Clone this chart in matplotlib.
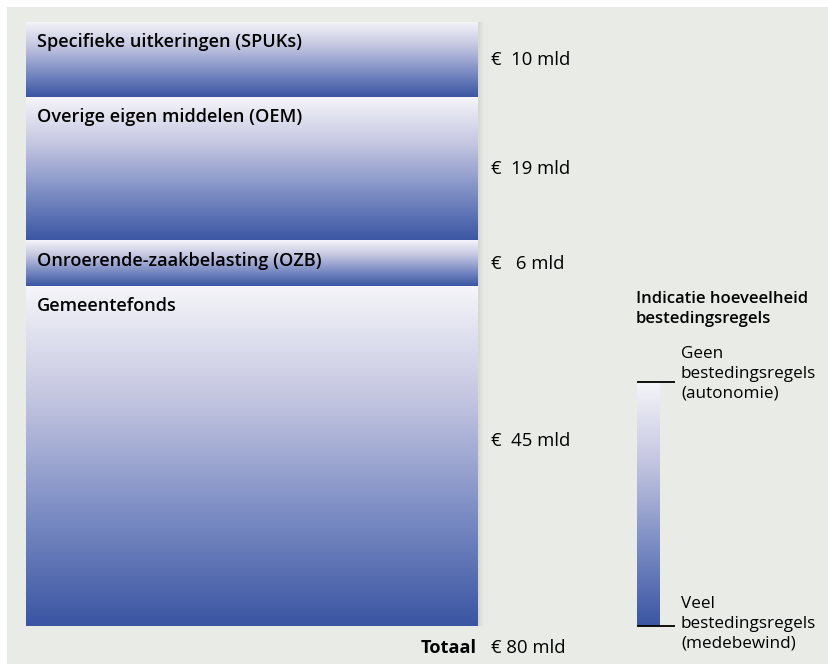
import numpy as np
import matplotlib.pyplot as plt
from matplotlib.colors import LinearSegmentedColormap
from matplotlib.patches import Rectangle

plt.rcParams['font.family'] = ['Open Sans', 'DejaVu Sans']

# data (mld euro), top to bottom
categories = ['Specifieke uitkeringen (SPUKs)', 'Overige eigen middelen (OEM)',
              'Onroerende-zaakbelasting (OZB)', 'Gemeentefonds']
values = [10, 19, 6, 45]
value_labels = ['€  10 mld', '€  19 mld', '€   6 mld', '€  45 mld']
total_label = '€ 80 mld'
legend_title = 'Indicatie hoeveelheid\nbestedingsregels'
legend_top = 'Geen\nbestedingsregels\n(autonomie)'
legend_bottom = 'Veel\nbestedingsregels\n(medebewind)'

bg = '#e8ebe6'
cmap = LinearSegmentedColormap.from_list('wb', ['#f5f5f9', '#c3c5e0', '#7c8dc4', '#3a55a2'])
grad = np.linspace(0, 1, 256).reshape(-1, 1)

W, H = 829, 664
fig = plt.figure(figsize=(W / 100, H / 100), dpi=100, facecolor='white')
fig.patches.append(Rectangle((7 / W, 0), 1, 1 - 7 / H, transform=fig.transFigure,
                             facecolor=bg, edgecolor='none', zorder=-10))

def px_axes(x0, y0, x1, y1):
    return fig.add_axes([x0 / W, 1 - y1 / H, (x1 - x0) / W, (y1 - y0) / H])

total = sum(values)
ax = px_axes(26, 22, 478, 626)
ax.set_xlim(0, 1)
ax.set_ylim(total, 0)
ax.axis('off')

# soft shadow right of the column
for i, a in enumerate([0.10, 0.07, 0.04, 0.02]):
    ax.add_patch(Rectangle((1, 0), 0.004 * (i + 1), total, facecolor='#9a9f98',
                           alpha=a, edgecolor='none', clip_on=False, zorder=0))

top = 0
for cat, v, lab in zip(categories, values, value_labels):
    ax.imshow(grad, cmap=cmap, aspect='auto', extent=[0, 1, top + v, top],
              interpolation='bilinear', zorder=1)
    ax.text(0.024, top + 2.6, cat, fontsize=13.1, fontweight='semibold',
            va='center', ha='left', zorder=2)
    # long segment: label sits a bit above the middle
    ymid = top + v / 2 - (2 if v > 30 else 0)
    ax.text(1.028, ymid, lab, fontsize=13.3, va='center', ha='left',
            clip_on=False)
    top += v
ax.set_ylim(total, 0)

ax.text(0.998, total + 2.9, 'Totaal', fontsize=13.1, fontweight='bold',
        va='center', ha='right', clip_on=False)
ax.text(1.028, total + 2.9, total_label, fontsize=13.3, va='center', ha='left',
        clip_on=False)

# legend bar
lax = px_axes(637, 382, 660, 626)
lax.imshow(grad, cmap=cmap, aspect='auto', extent=[0, 1, 0, 1], origin='upper')
lax.set_xlim(0, 1)
lax.set_ylim(0, 1)
lax.axis('off')
for yy in [1, 0]:
    lax.plot([0, 1.65], [yy, yy], color='black', lw=1.3, clip_on=False,
             solid_capstyle='butt')

fig.text(636 / W, 1 - 291 / H, legend_title, fontsize=12, fontweight='semibold',
         va='top', ha='left', linespacing=1.3)
fig.text(681 / W, 1 - 346 / H, legend_top, fontsize=12.3, va='top', ha='left',
         linespacing=1.3)
fig.text(681 / W, 1 - 596 / H, legend_bottom, fontsize=12.3, va='top', ha='left',
         linespacing=1.3)

fig.savefig('out.png', dpi=100, facecolor=fig.get_facecolor())
